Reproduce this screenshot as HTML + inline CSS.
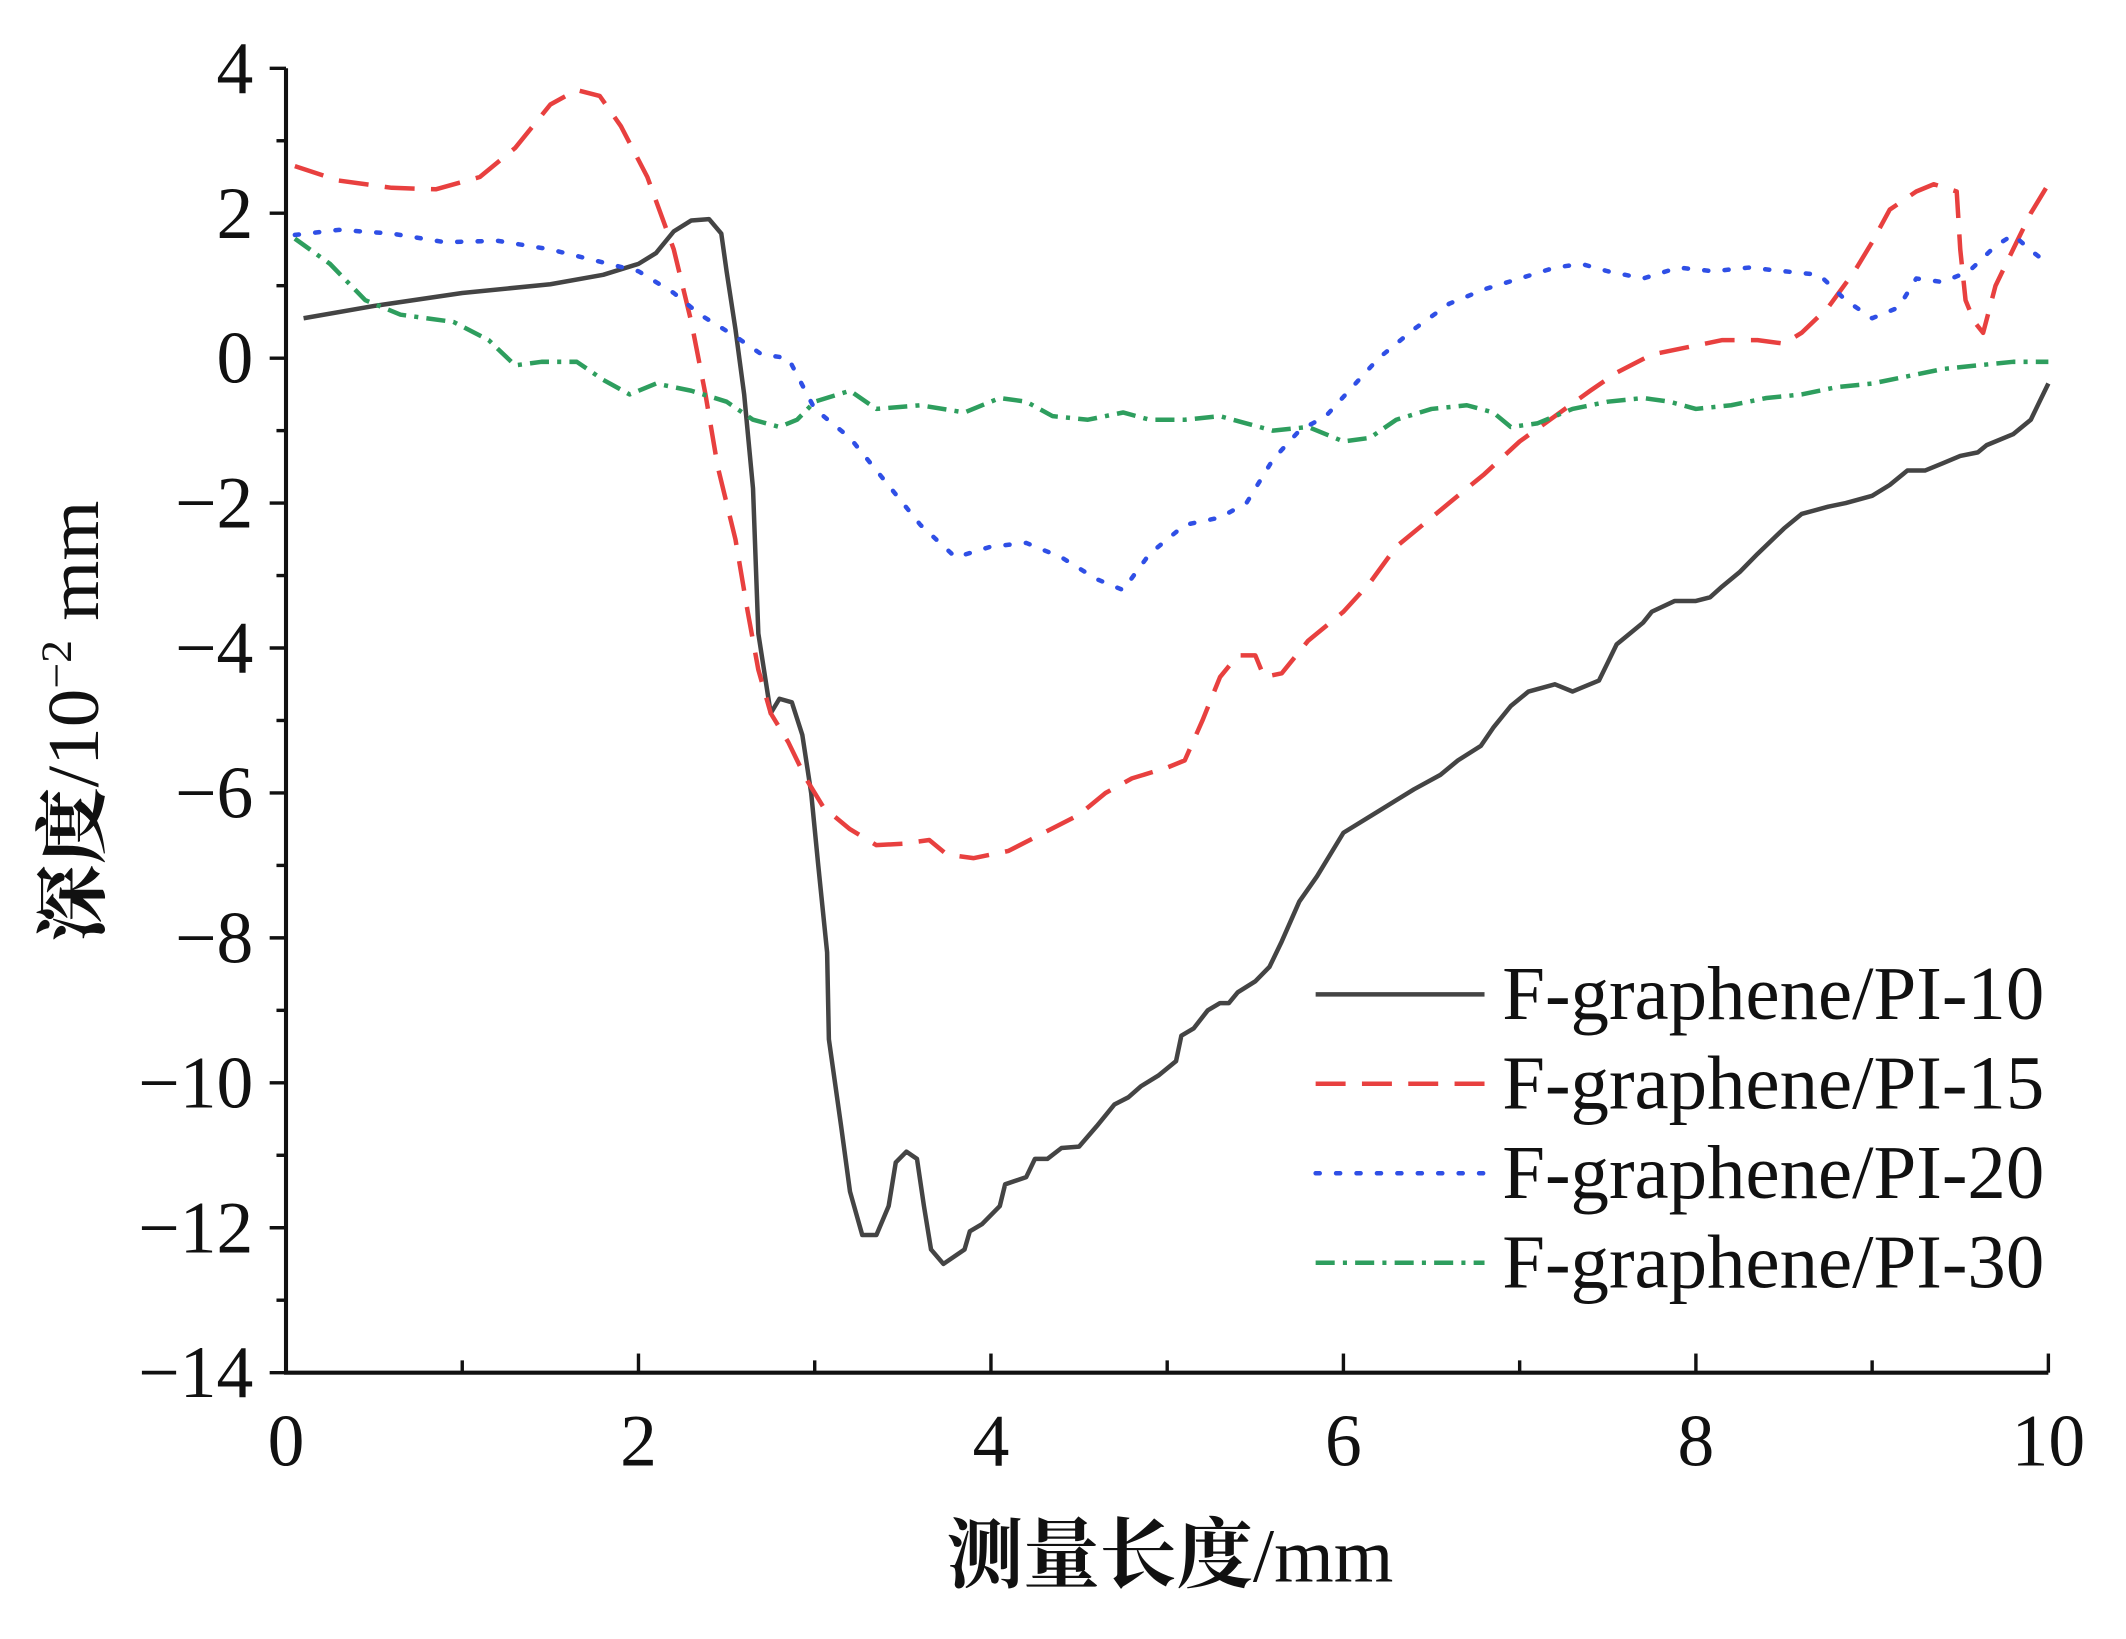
<!DOCTYPE html>
<html><head><meta charset="utf-8">
<style>
html,body{margin:0;padding:0;background:#fff;}
svg{display:block;}
text{font-family:"Liberation Serif","Noto Serif CJK SC",serif;fill:#111;}
</style></head>
<body>
<svg id="chart" width="2126" height="1639" viewBox="0 0 1561 1200" preserveAspectRatio="none" xmlns="http://www.w3.org/2000/svg">
<g id="axes"></g>
<g id="series"></g>
<g id="legend"></g>
<text transform="translate(72,528) rotate(-90)" text-anchor="middle" font-size="54" textLength="323" lengthAdjust="spacingAndGlyphs"><tspan font-weight="bold">深度</tspan>/10<tspan dy="-20" font-size="32">−2</tspan><tspan dy="20"> mm</tspan></text>
<text x="859" y="1158" text-anchor="middle" font-size="56" textLength="328" lengthAdjust="spacingAndGlyphs"><tspan font-weight="bold">测量长度</tspan>/mm</text>
</svg>
<script>
const xTicks=[0,2,4,6,8,10];
const yTicks=[4,2,0,-2,-4,-6,-8,-10,-12,-14];
const names=["F-graphene/PI-10","F-graphene/PI-15","F-graphene/PI-20","F-graphene/PI-30"];
const s10x=[0.1,0.5,1.0,1.5,1.8,2.0,2.1,2.2,2.3,2.4,2.47,2.5,2.55,2.6,2.65,2.68,2.75,2.8,2.87,2.93,2.98,3.02,3.07,3.08,3.15,3.2,3.27,3.35,3.42,3.46,3.52,3.58,3.62,3.66,3.73,3.85,3.88,3.95,4.05,4.08,4.2,4.25,4.32,4.4,4.5,4.6,4.7,4.78,4.85,4.95,5.05,5.08,5.15,5.23,5.3,5.35,5.4,5.5,5.58,5.65,5.75,5.85,6.0,6.2,6.4,6.55,6.65,6.78,6.85,6.95,7.05,7.2,7.3,7.35,7.45,7.5,7.55,7.7,7.75,7.88,8.0,8.08,8.15,8.25,8.35,8.5,8.6,8.75,8.85,9.0,9.1,9.2,9.3,9.4,9.5,9.6,9.65,9.8,9.9,9.95,10.0];
const s10y=[0.55,0.72,0.9,1.02,1.15,1.3,1.45,1.75,1.9,1.92,1.72,1.2,0.4,-0.5,-1.8,-3.8,-4.9,-4.7,-4.75,-5.2,-6.0,-7.0,-8.2,-9.4,-10.6,-11.5,-12.1,-12.1,-11.7,-11.1,-10.95,-11.05,-11.7,-12.3,-12.5,-12.3,-12.05,-11.95,-11.7,-11.4,-11.3,-11.05,-11.05,-10.9,-10.88,-10.6,-10.3,-10.2,-10.05,-9.9,-9.7,-9.35,-9.25,-9.0,-8.9,-8.9,-8.75,-8.6,-8.4,-8.05,-7.5,-7.15,-6.55,-6.25,-5.95,-5.75,-5.55,-5.35,-5.1,-4.8,-4.6,-4.5,-4.6,-4.55,-4.45,-4.2,-3.95,-3.65,-3.5,-3.35,-3.35,-3.3,-3.15,-2.95,-2.7,-2.35,-2.15,-2.05,-2.0,-1.9,-1.75,-1.55,-1.55,-1.45,-1.35,-1.3,-1.2,-1.05,-0.85,-0.6,-0.35];
const s15x=[0.05,0.3,0.6,0.85,1.1,1.3,1.5,1.65,1.78,1.9,2.05,2.2,2.3,2.38,2.45,2.55,2.62,2.68,2.75,2.85,2.95,3.05,3.2,3.35,3.5,3.65,3.75,3.9,4.1,4.3,4.5,4.65,4.8,5.0,5.1,5.2,5.3,5.4,5.5,5.55,5.65,5.8,6.0,6.15,6.3,6.45,6.6,6.8,7.0,7.2,7.4,7.55,7.75,7.95,8.15,8.35,8.5,8.6,8.75,8.9,9.0,9.1,9.25,9.35,9.48,9.5,9.53,9.58,9.63,9.7,9.8,9.9,10.0];
const s15y=[2.65,2.45,2.35,2.33,2.5,2.9,3.5,3.7,3.62,3.2,2.5,1.5,0.5,-0.5,-1.5,-2.5,-3.5,-4.3,-4.9,-5.3,-5.8,-6.2,-6.5,-6.72,-6.7,-6.65,-6.85,-6.9,-6.8,-6.55,-6.3,-6.0,-5.8,-5.65,-5.55,-5.0,-4.4,-4.1,-4.1,-4.4,-4.35,-3.9,-3.5,-3.1,-2.6,-2.3,-2.0,-1.6,-1.15,-0.8,-0.45,-0.2,0.05,0.15,0.25,0.25,0.2,0.35,0.7,1.2,1.6,2.05,2.3,2.4,2.3,1.5,0.8,0.5,0.35,1.0,1.5,2.0,2.4];
const s20x=[0.05,0.3,0.6,0.9,1.2,1.5,1.75,2.0,2.2,2.35,2.55,2.7,2.85,3.0,3.2,3.4,3.6,3.8,4.0,4.2,4.4,4.6,4.75,4.9,5.1,5.3,5.45,5.6,5.75,5.9,6.05,6.2,6.4,6.6,6.8,7.0,7.2,7.35,7.5,7.7,7.9,8.1,8.3,8.5,8.7,8.85,9.0,9.15,9.25,9.4,9.55,9.7,9.8,9.92,10.0];
const s20y=[1.7,1.77,1.72,1.6,1.62,1.5,1.35,1.2,0.9,0.6,0.3,0.05,0.0,-0.7,-1.1,-1.7,-2.3,-2.75,-2.6,-2.55,-2.75,-3.05,-3.2,-2.7,-2.3,-2.2,-2.0,-1.4,-1.0,-0.8,-0.4,0.0,0.4,0.75,0.95,1.1,1.25,1.3,1.2,1.1,1.25,1.2,1.25,1.2,1.15,0.8,0.55,0.7,1.1,1.05,1.2,1.55,1.7,1.45,1.3];
const s30x=[0.05,0.25,0.45,0.65,0.95,1.15,1.3,1.45,1.65,1.8,1.95,2.1,2.3,2.5,2.65,2.8,2.9,3.0,3.2,3.35,3.6,3.85,4.05,4.2,4.35,4.55,4.75,4.9,5.1,5.3,5.45,5.6,5.8,6.0,6.15,6.3,6.5,6.7,6.85,6.95,7.1,7.3,7.5,7.7,7.85,8.0,8.2,8.4,8.6,8.8,9.0,9.2,9.4,9.6,9.8,10.0];
const s30y=[1.65,1.3,0.8,0.6,0.5,0.25,-0.1,-0.05,-0.05,-0.3,-0.5,-0.35,-0.45,-0.6,-0.85,-0.95,-0.85,-0.6,-0.45,-0.7,-0.65,-0.75,-0.55,-0.6,-0.8,-0.85,-0.75,-0.85,-0.85,-0.8,-0.9,-1.0,-0.95,-1.15,-1.1,-0.85,-0.7,-0.65,-0.75,-0.95,-0.9,-0.7,-0.6,-0.55,-0.6,-0.7,-0.65,-0.55,-0.5,-0.4,-0.35,-0.25,-0.15,-0.1,-0.05,-0.05];

const X0=210,X1=1504,Y0=50,Y1=1005,xMin=0,xMax=10,yMin=-14,yMax=4;
const sx=v=>X0+(v-xMin)/(xMax-xMin)*(X1-X0);
const sy=v=>Y1-(v-yMin)/(yMax-yMin)*(Y1-Y0);
const NS="http://www.w3.org/2000/svg";
function mk(tag,parent,attrs){const e=document.createElementNS(NS,tag);for(const k in attrs)e.setAttribute(k,attrs[k]);parent.appendChild(e);return e;}
const axes=document.getElementById('axes');
let e=mk('path',axes,{d:`M${X0},${Y0}V${Y1}H${X1}`,fill:'none',stroke:'#111','stroke-width':3});


for(let v=yMin;v<=yMax;v++){const major=yTicks.includes(v);
 e=mk('line',axes,{x1:X0-(major?12:7),x2:X0,y1:sy(v),y2:sy(v),stroke:'#111','stroke-width':2.5});
 
 }
yTicks.forEach(v=>{e=mk('text',axes,{x:186,y:sy(v)+18,'text-anchor':'end','font-size':54});
 e.textContent=(v<0?'−':'')+Math.abs(v);
 
 });
for(let v=xMin;v<=xMax;v++){const major=xTicks.includes(v);
 e=mk('line',axes,{x1:sx(v),x2:sx(v),y1:Y1,y2:Y1-(major?14:9),stroke:'#111','stroke-width':2.5});
 
 }
xTicks.forEach(v=>{e=mk('text',axes,{x:sx(v),y:1073,'text-anchor':'middle','font-size':54});
 e.textContent=String(v);
 
 });
const styles=[{c:'#444',d:''},{c:'#e8403f',d:'22 12'},{c:'#2f4fe6',d:'3 12'},{c:'#2e9e5e',d:'14 6 3 6'}];
const data=[[s10x,s10y],[s15x,s15y],[s20x,s20y],[s30x,s30y]];
const sg=document.getElementById('series');
data.forEach((s,i)=>{const d=s[0].map((x,j)=>(j?'L':'M')+sx(x).toFixed(1)+','+sy(s[1][j]).toFixed(1)).join('');
 e=mk('path',sg,{d:d,fill:'none',stroke:styles[i].c,'stroke-width':3.3,'stroke-dasharray':styles[i].d,'stroke-linecap':i==2?'round':'butt','stroke-linejoin':'round'});
 
 });
const lg=document.getElementById('legend');
names.forEach((n,i)=>{const y=728+i*65.5;
 e=mk('line',lg,{x1:966,x2:1090,y1:y,y2:y,stroke:styles[i].c,'stroke-width':3.3,'stroke-dasharray':styles[i].d,'stroke-linecap':i==2?'round':'butt'});
 
 
 e=mk('text',lg,{x:1103,y:y+18,'font-size':56,textLength:398,lengthAdjust:'spacingAndGlyphs'});
 e.textContent=n;
 
 });
</script>
</body></html>
